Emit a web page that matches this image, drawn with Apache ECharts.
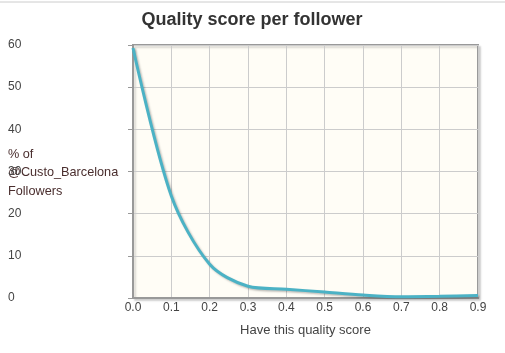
<!DOCTYPE html>
<html>
<head>
<meta charset="utf-8">
<script src="https://cdn.jsdelivr.net/npm/echarts@6/dist/echarts.min.js"></script>
<style>
  html, body { margin: 0; padding: 0; background: #fff; }
  #qualityChart { width: 505px; height: 353px; }
</style>
</head>
<body>
<div id="qualityChart"></div>
<script>
// quality score buckets and % of followers
let scores = [0.0, 0.1, 0.2, 0.3, 0.4, 0.5, 0.6, 0.7, 0.8, 0.9];
let followerPct = [59.3, 24.2, 8.0, 2.8, 2.1, 1.4, 0.7, 0.3, 0.4, 0.6];

const qualityChart = echarts.init(document.getElementById('qualityChart'));
qualityChart.setOption(qualityChartOption());

function qualityChartOption() {
  let points = scores.map(function (s, i) { return [s, followerPct[i]]; });
  return {
    animation: false,
    textStyle: { fontFamily: 'Liberation Sans, Arial, sans-serif' },
    title: {
      text: 'Quality score per follower',
      left: 247,
      textAlign: 'center',
      top: 6,
      textStyle: { fontSize: 18, fontWeight: 'bold', color: '#333' }
    },
    graphic: [
      {
        type: 'line',
        shape: { x1: 0, y1: 2, x2: 505, y2: 2 },
        style: { stroke: '#ccc', lineWidth: 1 }
      },
      {
        type: 'text',
        left: 8,
        top: 145,
        style: {
          text: '% of\n@Custo_Barcelona\nFollowers',
          fill: '#4a2e2e',
          font: '12.7px Liberation Sans, Arial, sans-serif',
          lineHeight: 18.5
        }
      }
    ],
    grid: {
      left: 133,
      right: 27,
      top: 45,
      bottom: 55,
      show: true,
      backgroundColor: '#fffdf6',
      borderColor: '#999',
      borderWidth: 2,
      shadowColor: 'rgba(0,0,0,0.15)',
      shadowOffsetX: 2,
      shadowOffsetY: 2,
      shadowBlur: 2
    },
    xAxis: {
      type: 'value',
      min: 0,
      max: 0.9,
      interval: 0.1,
      name: 'Have this quality score',
      nameLocation: 'middle',
      nameGap: 26,
      nameTextStyle: { color: '#444', fontSize: 13 },
      axisLine: { show: true, lineStyle: { color: '#999', width: 2 } },
      axisTick: { show: false },
      axisLabel: {
        color: '#444',
        fontSize: 12,
        margin: 4,
        formatter: function (v) { return v.toFixed(1); }
      },
      splitLine: { show: true, lineStyle: { color: '#ccc', width: 1 } }
    },
    yAxis: {
      type: 'value',
      min: 0,
      max: 60,
      interval: 10,
      axisLine: { show: true, lineStyle: { color: '#999', width: 2 } },
      axisTick: { show: true, length: 5, lineStyle: { color: '#999' } },
      axisLabel: {
        color: '#444',
        fontSize: 12,
        align: 'left',
        margin: 125
      },
      splitLine: { show: true, lineStyle: { color: '#ccc', width: 1 } }
    },
    series: [
      {
        type: 'line',
        smooth: 0.3,
        symbol: 'none',
        lineStyle: {
          width: 3,
          color: '#4bb2c5',
          shadowColor: 'rgba(0,0,0,0.25)',
          shadowOffsetX: 1.5,
          shadowOffsetY: 1.5,
          shadowBlur: 2
        },
        data: points
      }
    ]
  };
}
</script>
</body>
</html>
